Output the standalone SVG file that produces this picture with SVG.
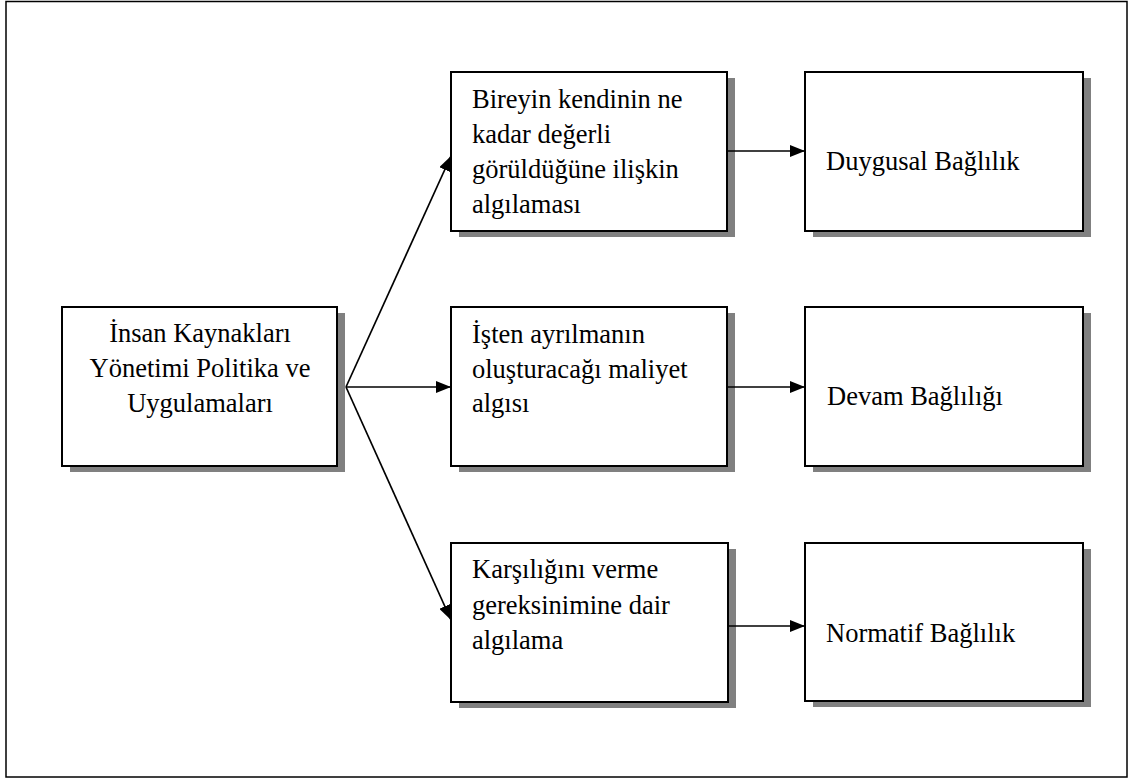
<svg xmlns="http://www.w3.org/2000/svg" width="1130" height="780" viewBox="0 0 1130 780">
<style>
.frame{fill:#fff;stroke:#000;stroke-width:1.5}
.shadow{fill:#808080}
.box{fill:#fff;stroke:#000;stroke-width:2}
.t{font-family:"Liberation Serif","Times New Roman",serif;font-size:26.5px;fill:#000}
.c{text-anchor:middle}
.conn{stroke:#000;stroke-width:1.7;fill:none;marker-end:url(#ah)}
</style>
<defs>
<marker id="ah" viewBox="0 0 15 12" refX="15" refY="6" markerWidth="15" markerHeight="12" markerUnits="userSpaceOnUse" orient="auto">
<path d="M0,0 L15,6 L0,12 Z" fill="#000"/>
</marker>
</defs>
<rect class="frame" x="6" y="1.5" width="1121" height="775.5"/>
<g id="ikyp">
<rect class="shadow" x="70" y="313" width="275" height="159"/>
<rect class="box" x="62" y="307" width="275" height="159"/>
<text class="t c" x="200" y="342">İnsan Kaynakları</text>
<text class="t c" x="200" y="377">Yönetimi Politika ve</text>
<text class="t c" x="200" y="412">Uygulamaları</text>
</g>
<g id="deger">
<rect class="shadow" x="459" y="78" width="276" height="159"/>
<rect class="box" x="451" y="72" width="276" height="159"/>
<text class="t" x="472" y="108">Bireyin kendinin ne</text>
<text class="t" x="472" y="143">kadar değerli</text>
<text class="t" x="472" y="178">görüldüğüne ilişkin</text>
<text class="t" x="472" y="213">algılaması</text>
</g>
<g id="maliyet">
<rect class="shadow" x="459" y="313" width="276" height="159"/>
<rect class="box" x="451" y="307" width="276" height="159"/>
<text class="t" x="472" y="343">İşten ayrılmanın</text>
<text class="t" x="472" y="378">oluşturacağı maliyet</text>
<text class="t" x="472" y="412">algısı</text>
</g>
<g id="karsilik">
<rect class="shadow" x="459" y="549" width="277" height="159"/>
<rect class="box" x="451" y="543" width="277" height="159"/>
<text class="t" x="472" y="578">Karşılığını verme</text>
<text class="t" x="472" y="614">gereksinimine dair</text>
<text class="t" x="472" y="649">algılama</text>
</g>
<g id="duygusal">
<rect class="shadow" x="813" y="78" width="278" height="159"/>
<rect class="box" x="805" y="72" width="278" height="159"/>
<text class="t" x="826" y="170">Duygusal Bağlılık</text>
</g>
<g id="devam">
<rect class="shadow" x="813" y="313" width="278" height="159"/>
<rect class="box" x="805" y="307" width="278" height="159"/>
<text class="t" x="827" y="405">Devam Bağlılığı</text>
</g>
<g id="normatif">
<rect class="shadow" x="813" y="549" width="278" height="158"/>
<rect class="box" x="805" y="543" width="278" height="158"/>
<text class="t" x="826" y="642">Normatif Bağlılık</text>
</g>
<g id="connectors">
<line class="conn" x1="346" y1="387" x2="451" y2="156"/>
<line class="conn" x1="346" y1="387" x2="451" y2="387"/>
<line class="conn" x1="346" y1="387" x2="451" y2="620"/>
<line class="conn" x1="727" y1="151" x2="805" y2="151"/>
<line class="conn" x1="727" y1="387" x2="805" y2="387"/>
<line class="conn" x1="728" y1="626" x2="805" y2="626"/>
</g>
</svg>
